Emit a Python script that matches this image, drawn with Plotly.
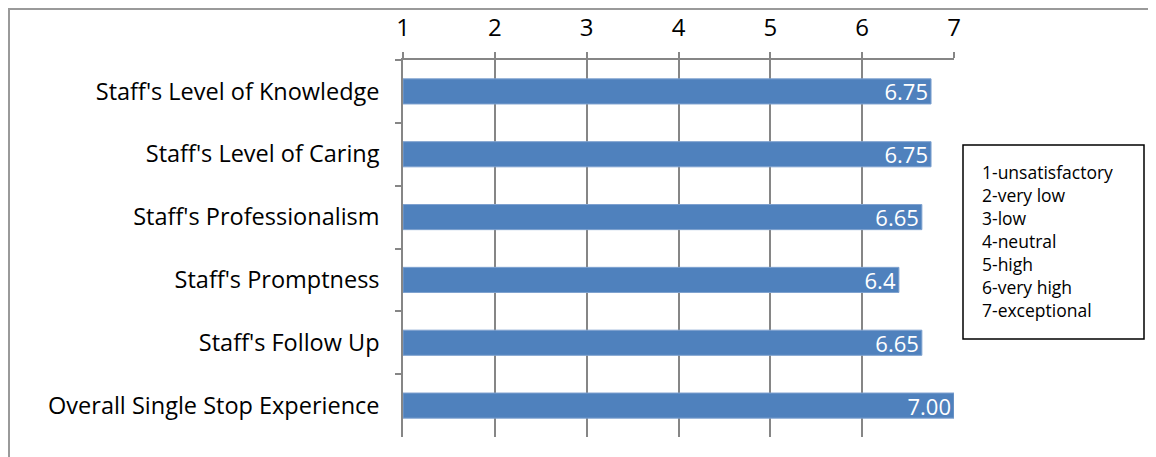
import plotly.graph_objects as go

categories = ["Staff's Level of Knowledge", "Staff's Level of Caring", "Staff's Professionalism",
              "Staff's Promptness", "Staff's Follow Up", "Overall Single Stop Experience"]
values = [6.75, 6.75, 6.65, 6.4, 6.65, 7.00]
value_labels = ["6.75", "6.75", "6.65", "6.4", "6.65", "7.00"]
tick_vals = [1, 2, 3, 4, 5, 6, 7]
tick_text = ["1", "2", "3", "4", "5", "6", "7"]
scale_legend = ["1-unsatisfactory", "2-very low", "3-low", "4-neutral", "5-high", "6-very high", "7-exceptional"]

FONT = "Open Sans, Lato, sans-serif"
GRAY = "#868686"

OFF = 8  # default page body margin
W, H = 1156 - OFF, 457 - OFF
# plot area in page pixels: x 403..954, y 60..437
L, T = 403 - OFF, 60 - OFF
R, B = W - (954 - OFF), H - (437 - OFF)
pw, ph = W - L - R, H - T - B

def px_x(x):
    return (x - OFF - L) / pw

def px_y(y):
    return (H - B - (y - OFF)) / ph

fig = go.Figure()
fig.add_trace(go.Bar(
    y=categories, x=[v - 1 for v in values], base=1, orientation="h",
    marker=dict(color="#4F81BD", line=dict(color="#7EA1CF", width=1)),
    text=value_labels, textposition="inside", insidetextanchor="end",
    constraintext="none",
    textfont=dict(family=FONT, size=22, color="white"),
    cliponaxis=False, hoverinfo="skip",
))

fig.update_layout(
    width=W, height=H,
    margin=dict(l=L, r=R, t=T, b=B, pad=0, autoexpand=False),
    paper_bgcolor="white", plot_bgcolor="white",
    showlegend=False, bargap=0.6,
    font=dict(family=FONT, color="black"),
    xaxis=dict(side="top", range=[1, 7], tickvals=tick_vals, ticktext=tick_text,
               showgrid=True, gridcolor=GRAY, gridwidth=1.5,
               showline=True, linecolor=GRAY, linewidth=1.5,
               ticks="outside", ticklen=6, tickcolor=GRAY, tickwidth=1.5,
               ticklabelstandoff=7, automargin=False,
               tickfont=dict(family=FONT, size=24, color="black"),
               zeroline=False, fixedrange=True),
    yaxis=dict(categoryorder="array", categoryarray=categories, autorange="reversed",
               showline=True, linecolor=GRAY, linewidth=1.5,
               ticks="outside", tickson="boundaries", ticklen=6, tickcolor=GRAY, tickwidth=1.5,
               ticklabelstandoff=17, automargin=False,
               tickfont=dict(family=FONT, size=23.5, color="black"),
               showgrid=False, zeroline=False, fixedrange=True),
)

# outer chart border (left and top edges visible)
fig.add_shape(type="rect", xref="paper", yref="paper",
              x0=px_x(9), x1=px_x(1180), y0=px_y(480), y1=px_y(9),
              line=dict(color="#9A9A9A", width=2), layer="below")

# scale legend box
fig.add_shape(type="rect", xref="paper", yref="paper",
              x0=px_x(963), x1=px_x(1144), y0=px_y(339), y1=px_y(145),
              line=dict(color="black", width=1.5), fillcolor="white")
for i, line in enumerate(scale_legend):
    fig.add_annotation(
        xref="paper", yref="paper", x=px_x(980), y=px_y(172 + 23 * i),
        xanchor="left", yanchor="middle", text=line, showarrow=False,
        font=dict(family=FONT, size=17.5, color="black"),
    )

fig.write_html("out.html")
